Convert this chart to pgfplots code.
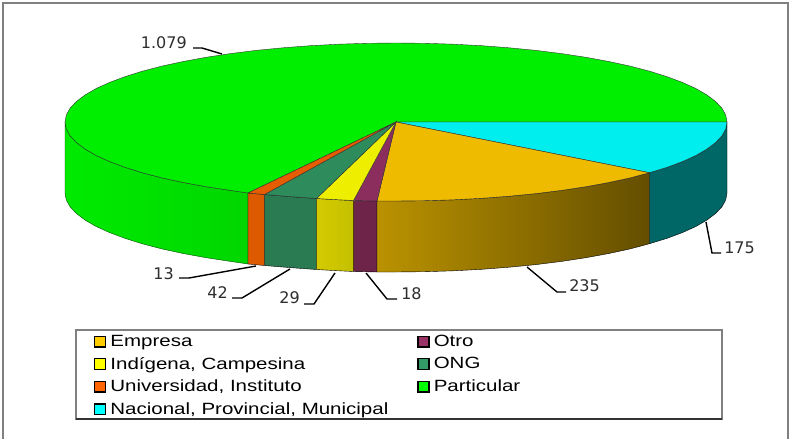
\documentclass[border=0pt]{standalone}
\usepackage{pgfplots}
\pgfplotsset{compat=1.18}
\usepackage{fontspec}
\setmainfont{Liberation Sans}
\newfontfamily\lab{DejaVu Sans}
\newfontfamily\legf[FakeStretch=1.26]{Liberation Sans}
\definecolor{lt}{HTML}{2E2E2E}
\newcommand{\legitem}[1]{\addlegendimage{legend image code/.code={\draw[black,line width=1.1pt,fill=#1] (0pt,-4pt) rectangle (8.4pt,4pt);}}}
\begin{document}
\begin{tikzpicture}
\begin{axis}[
  width=591.75pt,height=329.25pt,scale only axis,hide axis,
  xmin=0,xmax=789,ymin=0,ymax=439,y dir=reverse,
  legend columns=2,
  legend cell align=left,
  legend style={draw=none,fill=none,at={(axis cs:93.5,332)},anchor=north west,
    font=\legf\fontsize{12.2pt}{13pt}\selectfont,row sep=2.6pt,inner sep=0pt,
    /tikz/every even column/.append style={column sep=0pt}},
]
% page and frame
\addplot[draw=none,fill=white,forget plot] coordinates {(0,0)(789,0)(789,439)(0,439)} --cycle;
\draw[draw=black!50,line width=1.5pt] (axis cs:2.5,439) -- (axis cs:2.5,2.5) -- (axis cs:787.5,2.5) -- (axis cs:787.5,439);
% walls
\addplot[draw=black!70!green,line width=0.3pt,left color=green!92!black,right color=green!84!black,forget plot] coordinates {
(248,193)(230.5,190.4)(206.1,186.7)(183.2,182.5)(161.9,177.9)(142.4,172.8)(124.9,167.3)(109.4,161.5)(96,155.4)(85,149)(76.3,142.4)(70,135.7)(66.3,128.9)(65,122)
(65,193)(66.3,199.9)(70,206.7)(76.3,213.4)(85,220)(96,226.4)(109.4,232.5)(124.9,238.3)(142.4,243.8)(161.9,248.9)(183.2,253.5)(206.1,257.7)(230.5,261.4)(248,264)} --cycle;
\addplot[draw=black,line width=0.3pt,fill={rgb,255:red,221;green,90;blue,0},forget plot] coordinates {
(248,193)(264.5,194.5)(264.5,265.5)(248,264)} --cycle;
\addplot[draw=black,line width=0.3pt,fill={rgb,255:red,42;green,122;blue,82},forget plot] coordinates {
(264.5,194.5)(290,196.6)(316.5,198.5)(316.5,269.5)(290,267.6)(264.5,265.5)} --cycle;
\addplot[draw=black,line width=0.3pt,left color={rgb,255:red,212;green,202;blue,0},right color={rgb,255:red,196;green,192;blue,0},forget plot] coordinates {
(316.5,198.5)(335,199.6)(353.5,200.5)(353.5,271.5)(335,270.6)(316.5,269.5)} --cycle;
\addplot[draw=black,line width=0.3pt,fill={rgb,255:red,110;green,35;blue,73},forget plot] coordinates {
(353.5,200.5)(377,201)(377,272)(353.5,271.5)} --cycle;
\addplot[draw=black,line width=0.3pt,left color={rgb,255:red,186;green,146;blue,0},right color={rgb,255:red,100;green,78;blue,0},forget plot] coordinates {
(377,201)(396,201)(424.9,200.7)(453.5,199.8)(481.7,198.3)(509.2,196.2)(535.9,193.6)(561.5,190.4)(585.9,186.7)(608.8,182.5)(630.1,177.9)(649.5,172.7)
(649.5,243.7)(630.1,248.9)(608.8,253.5)(585.9,257.7)(561.5,261.4)(535.9,264.6)(509.2,267.2)(481.7,269.3)(453.5,270.8)(424.9,271.7)(396,272)(377,272)} --cycle;
\addplot[draw=black,line width=0.3pt,fill={rgb,255:red,0;green,102;blue,102},forget plot] coordinates {
(649.5,172.7)(667.1,167.3)(682.6,161.5)(696,155.4)(707,149)(715.7,142.4)(722,135.7)(725.7,128.9)(727,122)
(727,193)(725.7,199.9)(722,206.7)(715.7,213.4)(707,220)(696,226.4)(682.6,232.5)(667.1,238.3)(649.5,243.7)} --cycle;
% top slices
\addplot[draw=black!80,line width=0.3pt,fill={rgb,255:red,0;green,238;blue,0},forget plot] coordinates {
(396,122)(248,193)(230.5,190.4)(206.1,186.7)(183.2,182.5)(161.9,177.9)(142.4,172.8)(124.9,167.3)(109.4,161.5)(96,155.4)(85,149)(76.3,142.4)(70,135.7)(66.3,128.9)(65,122)
(66.3,115.1)(70,108.3)(76.3,101.6)(85,95)(96,88.6)(109.4,82.5)(124.9,76.7)(142.4,71.2)(161.9,66.1)(183.2,61.5)(206.1,57.3)(230.5,53.6)(256.1,50.4)(282.8,47.8)(310.3,45.7)(338.5,44.2)(367.1,43.3)(396,43)
(424.9,43.3)(453.5,44.2)(481.7,45.7)(509.2,47.8)(535.9,50.4)(561.5,53.6)(585.9,57.3)(608.8,61.5)(630.1,66.1)(649.6,71.2)(667.1,76.7)(682.6,82.5)(696,88.6)(707,95)(715.7,101.6)(722,108.3)(725.7,115.1)(727,122)} --cycle;
\addplot[draw=black!80,line width=0.3pt,fill={rgb,255:red,0;green,238;blue,238},forget plot] coordinates {
(396,122)(727,122)(725.7,128.9)(722,135.7)(715.7,142.4)(707,149)(696,155.4)(682.6,161.5)(667.1,167.3)(649.5,172.7)} --cycle;
\addplot[draw=black!80,line width=0.3pt,fill={rgb,255:red,238;green,187;blue,0},forget plot] coordinates {
(396,122)(649.5,172.7)(630.1,177.9)(608.8,182.5)(585.9,186.7)(561.5,190.4)(535.9,193.6)(509.2,196.2)(481.7,198.3)(453.5,199.8)(424.9,200.7)(396,201)(377,201)} --cycle;
\addplot[draw=black!80,line width=0.3pt,fill={rgb,255:red,139;green,46;blue,94},forget plot] coordinates {(396,122)(377,201)(353.5,200.5)} --cycle;
\addplot[draw=black!80,line width=0.3pt,fill={rgb,255:red,238;green,238;blue,0},forget plot] coordinates {(396,122)(353.5,200.5)(335,199.6)(316.5,198.5)} --cycle;
\addplot[draw=black!80,line width=0.3pt,fill={rgb,255:red,46;green,139;blue,92},forget plot] coordinates {(396,122)(316.5,198.5)(290,196.6)(264.5,194.5)} --cycle;
\addplot[draw=black!80,line width=0.3pt,fill={rgb,255:red,230;green,92;blue,0},forget plot] coordinates {(396,122)(264.5,194.5)(248,193)} --cycle;
% leader lines
\addplot[black,line width=1.05pt,forget plot] coordinates {(193,48)(202,48)(222,54)};
\addplot[black,line width=1.05pt,forget plot] coordinates {(706,222)(712,253)(721,253)};
\addplot[black,line width=1.05pt,forget plot] coordinates {(527,267)(557,292)(566,292)};
\addplot[black,line width=1.05pt,forget plot] coordinates {(366,273)(387,299)(397,299)};
\addplot[black,line width=1.05pt,forget plot] coordinates {(335,273)(314,304)(304,304)};
\addplot[black,line width=1.05pt,forget plot] coordinates {(290,269)(242,298)(232,298)};
\addplot[black,line width=1.05pt,forget plot] coordinates {(256,266)(189,278)(179,278)};
% legend box
\addplot[draw=black!50,line width=1pt,fill=white,forget plot] coordinates {(76,330)(722,330)(722,419)(76,419)} --cycle;
\addplot[black!80,line width=0.8pt,forget plot] coordinates {(76,419)(722,419)};
% value labels
\node[text=lt,font=\lab\fontsize{12pt}{14pt}\selectfont,anchor=east,inner sep=0pt] at (axis cs:187,43) {1.079};
\node[text=lt,font=\lab\fontsize{12pt}{14pt}\selectfont,anchor=west,inner sep=0pt] at (axis cs:724,248) {175};
\node[text=lt,font=\lab\fontsize{12pt}{14pt}\selectfont,anchor=west,inner sep=0pt] at (axis cs:569,286) {235};
\node[text=lt,font=\lab\fontsize{12pt}{14pt}\selectfont,anchor=west,inner sep=0pt] at (axis cs:401,294) {18};
\node[text=lt,font=\lab\fontsize{12pt}{14pt}\selectfont,anchor=east,inner sep=0pt] at (axis cs:300,298) {29};
\node[text=lt,font=\lab\fontsize{12pt}{14pt}\selectfont,anchor=east,inner sep=0pt] at (axis cs:228,293) {42};
\node[text=lt,font=\lab\fontsize{12pt}{14pt}\selectfont,anchor=east,inner sep=0pt] at (axis cs:174,274) {13};
% legend
\legitem{{rgb,255:red,255;green,204;blue,0}}\addlegendentry{\makebox[229pt][l]{\hspace{1pt}Empresa}}
\legitem{{rgb,255:red,153;green,51;blue,102}}\addlegendentry{\hspace{1pt}Otro}
\legitem{{rgb,255:red,255;green,255;blue,0}}\addlegendentry{\makebox[229pt][l]{\hspace{1pt}Indígena, Campesina}}
\legitem{{rgb,255:red,51;green,153;blue,102}}\addlegendentry{\hspace{1pt}ONG}
\legitem{{rgb,255:red,255;green,102;blue,0}}\addlegendentry{\makebox[229pt][l]{\hspace{1pt}Universidad, Instituto}}
\legitem{{rgb,255:red,0;green,255;blue,0}}\addlegendentry{\hspace{1pt}Particular}
\legitem{{rgb,255:red,0;green,255;blue,255}}\addlegendentry{\makebox[229pt][l]{\hspace{1pt}Nacional, Provincial, Municipal}}
\end{axis}
\end{tikzpicture}
\end{document}
